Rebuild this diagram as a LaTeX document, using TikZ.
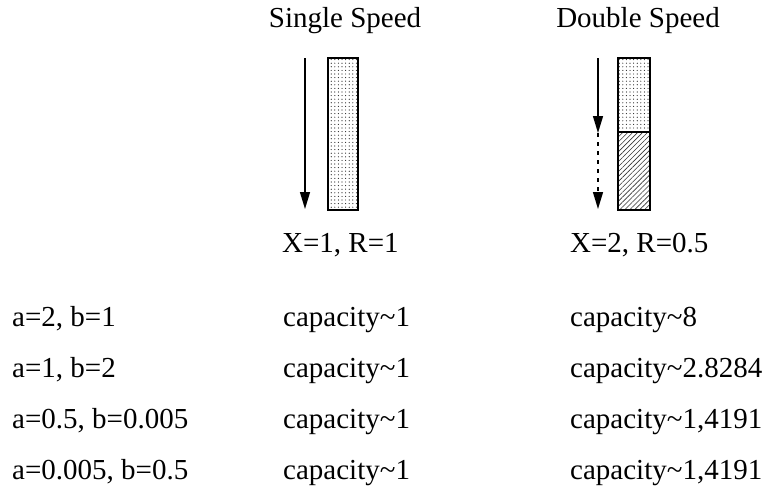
\documentclass[tikz,border=0pt]{standalone}
\usepackage{fontspec}
\setmainfont{Liberation Serif}
\usetikzlibrary{arrows.meta,patterns.meta,positioning}

\begin{document}
\begin{tikzpicture}[x=1pt, y=-1pt,
  lbl/.style={anchor=base west, inner sep=0pt, font=\fontsize{29}{34}\selectfont},
  ttl/.style={anchor=base, inner sep=0pt, font=\fontsize{29}{34}\selectfont},
  flow/.style={line width=1.3pt, -{Triangle[length=17pt,width=10pt]}},
  dotbar/.style={draw, line width=1.6pt, pattern color=black!85, pattern={Dots[distance=3.6pt,radius=0.6pt]}},
  hatchbar/.style={draw, line width=1.6pt, pattern color=black!80, pattern={Lines[angle=45,distance=3.5pt,line width=0.6pt]}}
]
  \useasboundingbox (0,0) rectangle (766,488);
  % titles
  \node[ttl] (single) at (345,27) {Single Speed};
  \node[ttl] (double) at (638,27) {Double Speed};
  % single speed bar
  \coordinate (s0) at (305,58);
  \coordinate (s1) at (305,209);
  \draw[flow] (s0) -- (s1);
  \draw[dotbar] (328,58) rectangle (358,210);
  % double speed bar
  \coordinate (d0) at (598,58);
  \coordinate (d1) at (598,133);
  \coordinate (d2) at (598,209);
  \draw[flow] (d0) -- (d1);
  \draw[flow, dash pattern=on 4pt off 5pt] (d1) -- (d2);
  \draw[dotbar] (618,58) rectangle (650,132);
  \draw[hatchbar] (618,132) rectangle (650,210);
  % parameters
  \node[lbl] (xs) at (282,252) {X=1, R=1};
  \node[lbl] (xd) at (570,252) {X=2, R=0.5};
  % cases
  \node[lbl] (ab1) at (12,326) {a=2, b=1};
  \node[lbl] (ab2) at (12,377) {a=1, b=2};
  \node[lbl] (ab3) at (12,428) {a=0.5, b=0.005};
  \node[lbl] (ab4) at (12,479) {a=0.005, b=0.5};
  \node[lbl] (cs1) at (283,326) {capacity\char`\~1};
  \node[lbl] (cs2) at (283,377) {capacity\char`\~1};
  \node[lbl] (cs3) at (283,428) {capacity\char`\~1};
  \node[lbl] (cs4) at (283,479) {capacity\char`\~1};
  \node[lbl] (cd1) at (570,326) {capacity\char`\~8};
  \node[lbl] (cd2) at (570,377) {capacity\char`\~2.8284};
  \node[lbl] (cd3) at (570,428) {capacity\char`\~1,4191};
  \node[lbl] (cd4) at (570,479) {capacity\char`\~1,4191};
\end{tikzpicture}
\end{document}
